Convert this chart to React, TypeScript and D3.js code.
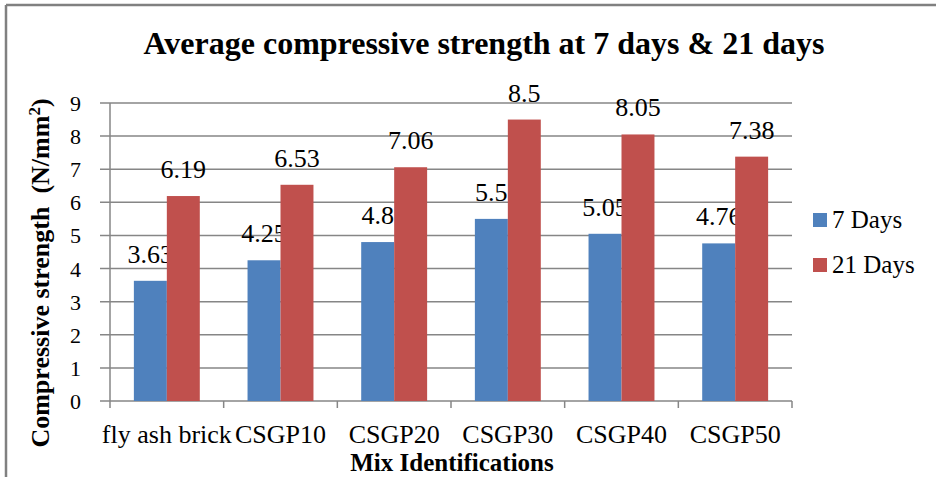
import React from "react";
import * as d3 from "d3";

const categories = ["fly ash brick", "CSGP10", "CSGP20", "CSGP30", "CSGP40", "CSGP50"];
const days7 = [3.63, 4.25, 4.8, 5.5, 5.05, 4.76];
const days21 = [6.19, 6.53, 7.06, 8.5, 8.05, 7.38];
const yTicks = [0, 1, 2, 3, 4, 5, 6, 7, 8, 9];
const seriesNames = ["7 Days", "21 Days"];
const colors = ["#4F81BD", "#C0504D"];

const W = 936;
const H = 477;
const left = 110;
const right = 792;
const top = 103;
const bottom = 401;

export default function App() {
  const x = d3.scaleBand<string>().domain(categories).range([left, right]).paddingInner(0).paddingOuter(0);
  const y = d3.scaleLinear().domain([0, 9]).range([bottom, top]);
  const bw = x.bandwidth();
  const barW = bw * 0.29;
  const font = "'Liberation Serif', 'Times New Roman', serif";
  const series = [days7, days21];

  return (
    <svg width={W} height={H} style={{ position: "absolute", left: 0, top: 0, background: "#fff" }} fontFamily={font}>
      <rect x={0} y={0} width={W} height={H} fill="#fff" />
      {/* frame */}
      <line x1={6} y1={5} x2={W} y2={5} stroke="#808080" strokeWidth={2.5} />
      <line x1={6} y1={5} x2={6} y2={H} stroke="#808080" strokeWidth={2.5} />

      <text x={484} y={54} textAnchor="middle" fontSize={32} fontWeight="bold">
        Average compressive strength at 7 days &amp; 21 days
      </text>

      {/* gridlines */}
      {yTicks.map((t) => (
        <line key={t} x1={left - 10} x2={right} y1={y(t)} y2={y(t)} stroke="#868686" strokeWidth={1.5} />
      ))}
      {/* y axis */}
      <line x1={left} x2={left} y1={top} y2={bottom} stroke="#868686" strokeWidth={1.5} />
      {yTicks.map((t) => (
        <text key={"yl" + t} x={81} y={y(t) + 8} textAnchor="end" fontSize={22}>
          {t}
        </text>
      ))}
      {/* x ticks */}
      {[...categories.map((c) => x(c) as number), right].map((px, i) => (
        <line key={"xt" + i} x1={px} x2={px} y1={bottom} y2={bottom + 7} stroke="#868686" strokeWidth={1.5} />
      ))}

      {/* bars */}
      {categories.map((c, i) => {
        const cx = (x(c) as number) + bw / 2;
        return series.map((s, si) => {
          const bx = cx - barW + si * barW;
          return (
            <g key={c + si}>
              <rect x={bx} y={y(s[i])} width={barW} height={bottom - y(s[i])} fill={colors[si]} />
              <text x={bx + barW / 2} y={y(s[i]) - 18} textAnchor="middle" fontSize={26}>
                {String(s[i])}
              </text>
            </g>
          );
        });
      })}

      {/* x labels */}
      {categories.map((c) => (
        <text key={"xl" + c} x={(x(c) as number) + bw / 2} y={443} textAnchor="middle" fontSize={26}>
          {c}
        </text>
      ))}
      <text x={452} y={471} textAnchor="middle" fontSize={25} fontWeight="bold">
        Mix Identifications
      </text>

      {/* y title */}
      <text transform={`translate(49,273) rotate(-90)`} textAnchor="middle" fontSize={26} fontWeight="bold">
        Compressive strength{"\u00A0\u00A0"}(N/mm<tspan fontSize={17} dy={-9}>2</tspan>
        <tspan dy={9}>)</tspan>
      </text>

      {/* legend */}
      {seriesNames.map((n, i) => (
        <g key={n}>
          <rect x={813} y={213 + i * 45} width={14} height={14} fill={colors[i]} />
          <text x={832} y={228 + i * 45} fontSize={25}>
            {n}
          </text>
        </g>
      ))}
    </svg>
  );
}
